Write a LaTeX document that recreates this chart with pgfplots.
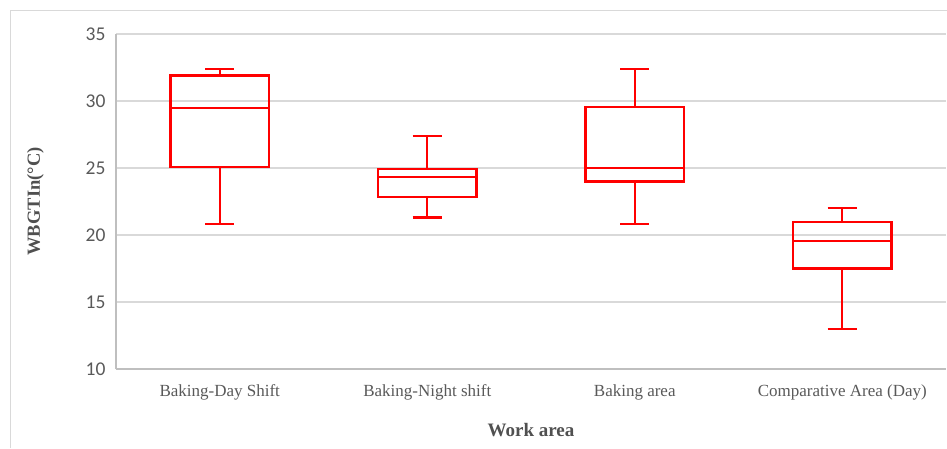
\documentclass[border=0pt]{standalone}
\usepackage{fontspec}
\setmainfont{Liberation Serif}
\newfontfamily\calib{Carlito}
\usepackage{pgfplots}
\pgfplotsset{compat=1.18}
\definecolor{gridc}{HTML}{D9D9D9}
\definecolor{axisc}{HTML}{BFBFBF}
\definecolor{tickc}{HTML}{595959}
\definecolor{titlec}{HTML}{505050}
\tikzset{bx/.style={draw=red, line width=2.2pt, solid, mark=none, line join=miter}}
\begin{document}
\begin{tikzpicture}
\path[use as bounding box] (0pt,0pt) rectangle (947pt,448pt);
\draw[gridc, line width=1pt] (10pt,0pt) -- (10pt,437pt) -- (947pt,437pt);
\begin{axis}[
  scale only axis,
  width=830pt, height=335pt,
  at={(116pt,79pt)}, anchor=south west,
  xmin=-0.5, xmax=3.5, ymin=10, ymax=35,
  axis x line=bottom, axis y line=left,
  axis line style={axisc, line width=2pt, -},
  ytick={10,15,20,25,30,35},
  yticklabels={10,15,20,25,30,35},
  xtick={0,1,2,3},
  xticklabels={Baking-Day Shift,Baking-Night shift,Baking area,Comparative Area (Day)},
  major tick length=0pt,
  ymajorgrids,
  grid style={gridc, line width=1.3pt},
  yticklabel style={font=\calib\fontsize{19.5}{22}\selectfont, text=tickc, xshift=-7pt},
  xticklabel style={font=\fontsize{17}{20}\selectfont, text=tickc, yshift=-12pt},
  xlabel={Work area},
  ylabel={WBGTIn(°C)},
  xlabel style={font=\bfseries\fontsize{19}{22}\selectfont, text=titlec, at={(axis description cs:0.5,-0.182)}, anchor=center},
  ylabel style={font=\bfseries\fontsize{18.5}{22}\selectfont, text=titlec, at={(axis description cs:-0.097,0.5)}, anchor=center},
  clip=false,
]
% Box 1: Baking-Day Shift  (lw 20.8, q1 25.1, med 29.5, q3 31.9, uw 32.4)
\addplot[bx] coordinates {(-0.2375,25.1) (0.2375,25.1) (0.2375,31.9) (-0.2375,31.9)} -- cycle;
\addplot[bx] coordinates {(-0.2375,29.5) (0.2375,29.5)};
\addplot[bx] coordinates {(0,31.9) (0,32.4)};
\addplot[bx] coordinates {(-0.07,32.4) (0.07,32.4)};
\addplot[bx] coordinates {(0,25.1) (0,20.8)};
\addplot[bx] coordinates {(-0.07,20.8) (0.07,20.8)};
% Box 2: Baking-Night shift (lw 21.3, q1 22.85, med 24.35, q3 24.9, uw 27.4)
\addplot[bx] coordinates {(0.7625,22.85) (1.2375,22.85) (1.2375,24.9) (0.7625,24.9)} -- cycle;
\addplot[bx] coordinates {(0.7625,24.35) (1.2375,24.35)};
\addplot[bx] coordinates {(1,24.9) (1,27.4)};
\addplot[bx] coordinates {(0.93,27.4) (1.07,27.4)};
\addplot[bx] coordinates {(1,22.85) (1,21.3)};
\addplot[bx] coordinates {(0.93,21.3) (1.07,21.3)};
% Box 3: Baking area (lw 20.8, q1 24.0, med 25.0, q3 29.55, uw 32.4)
\addplot[bx] coordinates {(1.7625,24.0) (2.2375,24.0) (2.2375,29.55) (1.7625,29.55)} -- cycle;
\addplot[bx] coordinates {(1.7625,25.0) (2.2375,25.0)};
\addplot[bx] coordinates {(2,29.55) (2,32.4)};
\addplot[bx] coordinates {(1.93,32.4) (2.07,32.4)};
\addplot[bx] coordinates {(2,24.0) (2,20.8)};
\addplot[bx] coordinates {(1.93,20.8) (2.07,20.8)};
% Box 4: Comparative Area (Day) (lw 13.0, q1 17.5, med 19.55, q3 20.95, uw 22.0)
\addplot[bx] coordinates {(2.7625,17.5) (3.2375,17.5) (3.2375,20.95) (2.7625,20.95)} -- cycle;
\addplot[bx] coordinates {(2.7625,19.55) (3.2375,19.55)};
\addplot[bx] coordinates {(3,20.95) (3,22.0)};
\addplot[bx] coordinates {(2.93,22.0) (3.07,22.0)};
\addplot[bx] coordinates {(3,17.5) (3,13.0)};
\addplot[bx] coordinates {(2.93,13.0) (3.07,13.0)};
\end{axis}
\end{tikzpicture}
\end{document}
